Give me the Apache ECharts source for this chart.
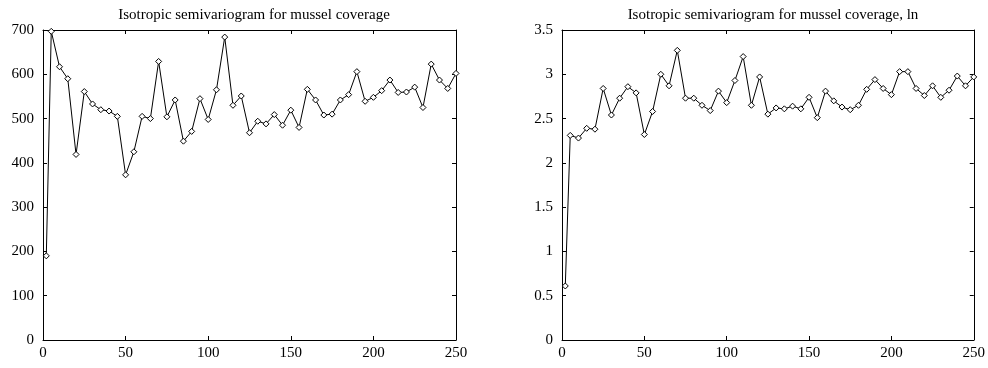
<!DOCTYPE html>
<html>
<head>
<meta charset="utf-8">
<script src="https://cdn.jsdelivr.net/npm/echarts@6/dist/echarts.min.js"></script>
<style>
  html, body { margin: 0; padding: 0; background: #fff; }
  #chart { width: 988px; height: 368px; }
</style>
</head>
<body>
<div id="chart"></div>
<script>
// lag distances
const lags = [2, 5, 10, 15, 20, 25, 30, 35, 40, 45, 50, 55, 60, 65, 70, 75, 80, 85, 90, 95, 100,
  105, 110, 115, 120, 125, 130, 135, 140, 145, 150, 155, 160, 165, 170, 175, 180, 185, 190, 195, 200,
  205, 210, 215, 220, 225, 230, 235, 240, 245, 250];

// semivariance, raw coverage
const gammaRaw = [190, 697, 617, 590, 419, 561, 533, 520, 517, 505, 373, 425, 505, 500, 629, 504, 542, 449, 471, 545, 498,
  565, 684, 530, 551, 468, 494, 488, 509, 485, 519, 480, 566, 542, 508, 510, 542, 554, 606, 539, 548,
  563, 587, 559, 560, 571, 525, 623, 587, 568, 602];

// semivariance, ln coverage
const gammaLn = [0.61, 2.31, 2.28, 2.39, 2.38, 2.84, 2.54, 2.73, 2.86, 2.79, 2.32, 2.58, 3.00, 2.87, 3.27, 2.73, 2.73, 2.65, 2.59, 2.81, 2.68,
  2.93, 3.20, 2.65, 2.97, 2.55, 2.62, 2.61, 2.64, 2.61, 2.74, 2.51, 2.81, 2.70, 2.63, 2.60, 2.65, 2.83, 2.94, 2.84, 2.77,
  3.03, 3.03, 2.84, 2.76, 2.87, 2.74, 2.82, 2.98, 2.87, 2.97];

const titles = ['Isotropic semivariogram for mussel coverage', 'Isotropic semivariogram for mussel coverage, ln'];

const FONT = '"Liberation Serif", "DejaVu Serif", serif';
const chart = echarts.init(document.getElementById('chart'));

const lineStyle = { color: '#000', width: 1 };

function xAxisFor(gridIndex, position, showLabel) {
  return {
    type: 'value', gridIndex, position, min: 0, max: 250, interval: 50,
    axisLine: { show: true, onZero: false, lineStyle },
    axisTick: { show: true, inside: true, length: 4, lineStyle },
    axisLabel: { show: showLabel, color: '#000', fontFamily: FONT, fontSize: 15, margin: 6 },
    splitLine: { show: false }
  };
}

function yAxisFor(gridIndex, position, max, interval, showLabel) {
  return {
    type: 'value', gridIndex, position, min: 0, max, interval,
    axisLine: { show: true, onZero: false, lineStyle },
    axisTick: { show: true, inside: true, length: 4, lineStyle },
    axisLabel: { show: showLabel, color: '#000', fontFamily: FONT, fontSize: 15, margin: 9 },
    splitLine: { show: false }
  };
}

function seriesFor(idx, values) {
  return {
    type: 'line', xAxisIndex: idx * 2, yAxisIndex: idx * 2,
    data: lags.map((x, i) => [x, values[i]]),
    symbol: 'diamond', symbolSize: 6, showSymbol: true,
    lineStyle: { color: '#000', width: 1 },
    itemStyle: { color: '#fff', borderColor: '#000', borderWidth: 1 },
    animation: false
  };
}

chart.setOption({
  backgroundColor: '#fff',
  title: [
    { text: titles[0], left: 249, top: 3, textAlign: 'center',
      textStyle: { fontFamily: FONT, fontSize: 15, fontWeight: 'normal', color: '#000' } },
    { text: titles[1], left: 768, top: 3, textAlign: 'center',
      textStyle: { fontFamily: FONT, fontSize: 15, fontWeight: 'normal', color: '#000' } }
  ],
  grid: [
    { left: 43, right: 532, top: 30, bottom: 28 },
    { left: 562, right: 14, top: 30, bottom: 28 }
  ],
  xAxis: [
    xAxisFor(0, 'bottom', true), xAxisFor(0, 'top', false),
    xAxisFor(1, 'bottom', true), xAxisFor(1, 'top', false)
  ],
  yAxis: [
    yAxisFor(0, 'left', 700, 100, true), yAxisFor(0, 'right', 700, 100, false),
    yAxisFor(1, 'left', 3.5, 0.5, true), yAxisFor(1, 'right', 3.5, 0.5, false)
  ],
  series: [seriesFor(0, gammaRaw), seriesFor(1, gammaLn)]
});
</script>
</body>
</html>
